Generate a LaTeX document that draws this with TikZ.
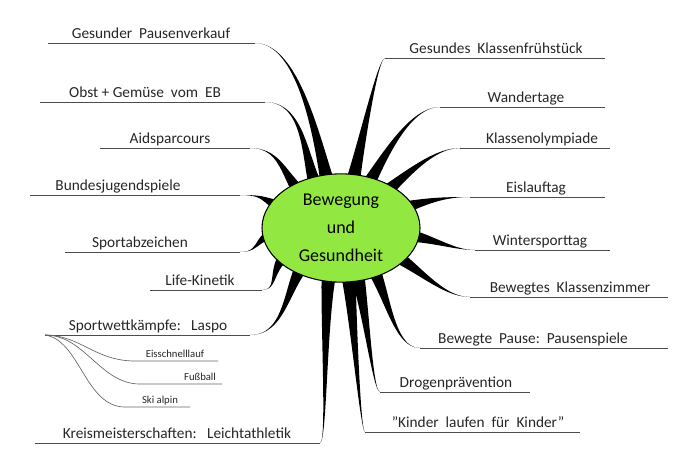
\documentclass[tikz,border=0pt]{standalone}
\usepackage{fontspec}
\setmainfont{Carlito}
\usetikzlibrary{calc,shapes.geometric}
\newcommand\brch[3]{%
 \path ($(e.center)!0.55!(e.#1)$) coordinate (s) ($(e.center)!1.15!(e.#1)$) coordinate (c1) ($(#2)+(#3,0)$) coordinate (c2);
 \fill[black] ($(s)!7pt!90:(#2)$) .. controls ($(c1)!3pt!90:(#2)$) and (c2) .. (#2) .. controls (c2) and ($(c1)!3pt!-90:(#2)$) .. ($(s)!7pt!-90:(#2)$) -- cycle;}
\begin{document}
\begin{tikzpicture}[x=0.75pt,y=-0.75pt,
  lab/.style={font=\fontsize{11.5}{13}\selectfont,text=black!85,anchor=base,inner sep=0pt},
  sub/.style={font=\fontsize{8}{9}\selectfont,text=black!85,anchor=base,inner sep=0pt},
  ul/.style={draw=black!70,line width=0.7pt},
  sul/.style={draw=black!60,line width=0.5pt}]
\useasboundingbox (0,0) rectangle (688,451);
\node[ellipse,minimum width=158*0.75pt,minimum height=102*0.75pt,inner sep=0pt] (e) at (341,228) {};
\foreach \n/\x/\y in {L1/255/43,L2/265/102,L3/250/148,L4/240/195,L5/240/252,L6/262/290,L7/250/335,L8/320/443,
  R1/385/58,R2/440/107,R3/460/148,R4/470/197,R5/475/250,R6/470/297,R7/420/348,R8/380/392,R9/365/432}
  \coordinate (\n) at (\x,\y);
\brch{108}{L1}{50}\brch{125}{L2}{45}\brch{142}{L3}{35}\brch{162}{L4}{30}\brch{182}{L5}{25}
\brch{202}{L6}{20}\brch{220}{L7}{40}\brch{252}{L8}{8}
\brch{75}{R1}{-8}\brch{57}{R2}{-35}\brch{38}{R3}{-30}\brch{18}{R4}{-30}\brch{-5}{R5}{-25}
\brch{-25}{R6}{-30}\brch{-48}{R7}{-30}\brch{-68}{R8}{-8}\brch{-80}{R9}{-5}
\node[ellipse,draw=black,line width=0.8pt,fill={rgb,255:red,146;green,232;blue,64},minimum width=158*0.75pt,minimum height=102*0.75pt,align=center,font=\fontsize{13.5}{21}\selectfont] (c) at (341,228) {Bewegung\\und\\Gesundheit};
\coordinate (a1) at (48,43); \draw[ul] (a1) -- (L1);
\coordinate (a2) at (40,102); \draw[ul] (a2) -- (L2);
\coordinate (a3) at (100,148); \draw[ul] (a3) -- (L3);
\coordinate (a4) at (30,195); \draw[ul] (a4) -- (L4);
\coordinate (a5) at (65,252); \draw[ul] (a5) -- (L5);
\coordinate (a6) at (150,290); \draw[ul] (a6) -- (L6);
\coordinate (a7) at (45,335); \draw[ul] (a7) -- (L7);
\coordinate (a8) at (35,443); \draw[ul] (a8) -- (L8);
\coordinate (b1) at (605,58); \draw[ul] (R1) -- (b1);
\coordinate (b2) at (605,107); \draw[ul] (R2) -- (b2);
\coordinate (b3) at (610,148); \draw[ul] (R3) -- (b3);
\coordinate (b4) at (605,197); \draw[ul] (R4) -- (b4);
\coordinate (b5) at (610,250); \draw[ul] (R5) -- (b5);
\coordinate (b6) at (668,297); \draw[ul] (R6) -- (b6);
\coordinate (b7) at (668,348); \draw[ul] (R7) -- (b7);
\coordinate (b8) at (530,392); \draw[ul] (R8) -- (b8);
\coordinate (b9) at (580,432); \draw[ul] (R9) -- (b9);
\node[lab] (t1) at (151,38) {Gesunder\ \ Pausenverkauf};
\node[lab] (t2) at (145,97) {Obst + Gemüse\ \ vom\ \ EB};
\node[lab] (t3) at (170,143) {Aidsparcours};
\node[lab] (t4) at (118,190) {Bundesjugendspiele};
\node[lab] (t5) at (140,247) {Sportabzeichen};
\node[lab] (t6) at (200,285) {Life-Kinetik};
\node[lab] (t7) at (148,330) {Sportwettkämpfe:\ \ \ Laspo};
\node[lab] (t8) at (177,438) {Kreismeisterschaften:\ \ \ Leichtathletik};
\node[lab] (u1) at (496,53) {Gesundes\ \ Klassenfrühstück};
\node[lab] (u2) at (526,102) {Wandertage};
\node[lab] (u3) at (542,143) {Klassenolympiade};
\node[lab] (u4) at (536,192) {Eislauftag};
\node[lab] (u5) at (540,245) {Wintersporttag};
\node[lab] (u6) at (570,292) {Bewegtes\ \ Klassenzimmer};
\node[lab] (u7) at (533,343) {Bewegte\ \ Pause:\ \ Pausenspiele};
\node[lab] (u8) at (456,387) {Drogenprävention};
\node[lab] (u9) at (478,427) {"Kinder\ \ laufen\ \ für\ \ Kinder"};
\coordinate (s1) at (135,361); \coordinate (s1e) at (218,361);
\coordinate (s2) at (140,384); \coordinate (s2e) at (222,384);
\coordinate (s3) at (125,407); \coordinate (s3e) at (190,407);
\draw[sul] (a7) .. controls (80,335) and (95,361) .. (s1) -- (s1e);
\draw[sul] (a7) .. controls (85,335) and (100,384) .. (s2) -- (s2e);
\draw[sul] (a7) .. controls (80,340) and (85,407) .. (s3) -- (s3e);
\node[sub] (v1) at (175,357) {Eisschnelllauf};
\node[sub] (v2) at (200,380) {Fußball};
\node[sub] (v3) at (160,403) {Ski\ alpin};
\end{tikzpicture}
\end{document}
